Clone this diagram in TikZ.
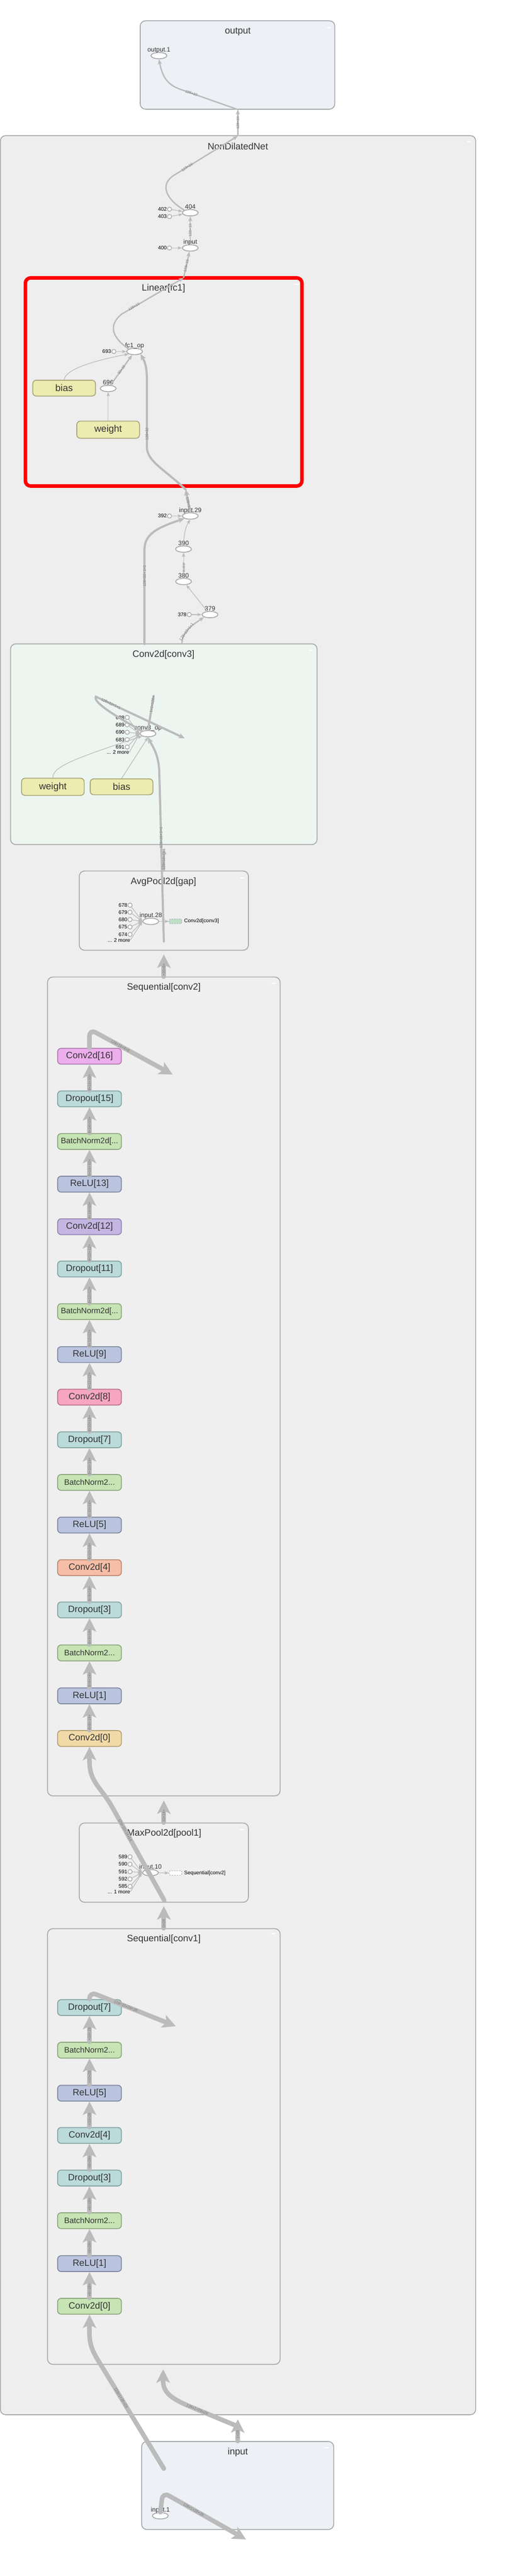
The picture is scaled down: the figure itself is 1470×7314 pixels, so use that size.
\documentclass[tikz,border=0pt]{standalone}
\usepackage{fontspec}
\setmainfont{Liberation Sans}
\usepackage{xcolor}
\usepackage{tikz}
\usetikzlibrary{arrows.meta,shapes.geometric}
\definecolor{edge}{HTML}{BBBBBB}
\definecolor{frame}{HTML}{A9A9A9}
\definecolor{ioframe}{HTML}{A6A8AC}
\definecolor{netbg}{HTML}{EEEEEE}
\definecolor{subbg}{HTML}{EFEFEF}
\definecolor{iobg}{HTML}{EDF0F5}
\definecolor{convbg}{HTML}{EDF5F0}
\definecolor{ink}{HTML}{333333}
\definecolor{elabc}{HTML}{7A7A7A}
\definecolor{opline}{HTML}{AAAAAA}
\definecolor{paramfill}{HTML}{ECEBB0}
\definecolor{paramline}{HTML}{A8A67A}
\definecolor{dropf}{HTML}{BBDADA}
\definecolor{dropl}{HTML}{84A3A3}
\definecolor{bnf}{HTML}{C6E4B4}
\definecolor{bnl}{HTML}{8DA67E}
\definecolor{reluf}{HTML}{BAC4DE}
\definecolor{relul}{HTML}{7F88A2}
\definecolor{cvaf}{HTML}{ECAEEC}
\definecolor{cval}{HTML}{B07CB0}
\definecolor{cvbf}{HTML}{C4B6E2}
\definecolor{cvbl}{HTML}{9285AE}
\definecolor{cvcf}{HTML}{F6A6C0}
\definecolor{cvcl}{HTML}{BC7189}
\definecolor{cvdf}{HTML}{F6BEA6}
\definecolor{cvdl}{HTML}{BC8670}
\definecolor{cvef}{HTML}{F2DAA8}
\definecolor{cvel}{HTML}{B59F73}
\definecolor{refgreen}{HTML}{BEE0C6}
\tikzset{
  cluster/.style={draw=frame, line width=0.25mm, rounded corners=1.5mm, inner sep=0pt},
  ttl/.style={text=ink, font=\fontsize{7.5}{9}\selectfont},
  opn/.style={ellipse, draw=opline, fill=white, line width=0.25mm, minimum width=4.5mm, minimum height=1.8mm, inner sep=0pt, label distance=0.6mm},
  cst/.style={circle, draw=opline, fill=white, line width=0.2mm, minimum size=1.2mm, inner sep=0pt, label distance=0.5mm},
  oplab/.style={text=ink, font=\fontsize{5.1}{6}\selectfont, inner sep=0pt, text depth=0pt},
  cstlab/.style={text=black, font=\fontsize{4.2}{5}\selectfont, inner sep=0pt},
  parambox/.style={draw=paramline, fill=paramfill, line width=0.25mm, rounded corners=1mm, minimum width=17.8mm, minimum height=4.5mm, text=ink, font=\fontsize{7.7}{9}\selectfont},
  modbox/.style={rounded corners=1mm, line width=0.25mm, minimum width=18.1mm, minimum height=4.5mm, inner sep=0pt, text=ink, font=\fontsize{7.4}{9}\selectfont},
  dropc/.style={modbox, fill=dropf, draw=dropl},
  bnc/.style={modbox, fill=bnf, draw=bnl, font=\fontsize{6.4}{8}\selectfont},
  reluc/.style={modbox, fill=reluf, draw=relul},
  cvac/.style={modbox, fill=cvaf, draw=cval},
  cvbc/.style={modbox, fill=cvbf, draw=cvbl},
  cvcc/.style={modbox, fill=cvcf, draw=cvcl},
  cvdc/.style={modbox, fill=cvdf, draw=cvdl},
  cvec/.style={modbox, fill=cvef, draw=cvel},
  linkbox/.style={draw=opline, dash pattern=on 0.4mm off 0.3mm, line width=0.15mm, rounded corners=0.4mm, minimum width=3.6mm, minimum height=1.3mm, inner sep=0pt},
  reflab/.style={text=black, font=\fontsize{4.2}{5}\selectfont, anchor=west, inner sep=0pt},
  edgethin/.style={draw=edge, line width=0.18mm, -{Stealth[length=1.2mm, width=0.9mm, inset=0.25mm]}},
  edgemid/.style={draw=edge, line width=0.38mm, -{Stealth[length=1.4mm, width=1.1mm, inset=0.3mm]}},
  edgethick/.style={draw=edge, line width=0.6mm, line cap=round, -{Stealth[length=1.7mm, width=1.5mm, inset=0.4mm]}},
  edgefat/.style={draw=edge, line width=1.3mm, line cap=round, -{Stealth[length=3.8mm, width=3.8mm, inset=0.9mm]}},
  elab/.style={text=elabc, font=\fontsize{3}{3.5}\selectfont, inner sep=0.2pt},
}

\begin{document}
\begin{tikzpicture}[x=0.1mm, y=-0.1mm]
  \useasboundingbox (0,0) rectangle (1470,7314);
  \fill[white] (0,0) rectangle (1470,7314);

  % groups
  \node[cluster, fill=iobg, draw=ioframe, minimum width=55.2mm, minimum height=25.1mm] (outbox) at (674,184.5) {};
  \node[cluster, fill=netbg, minimum width=134.9mm, minimum height=647.1mm] (net) at (675.5,3620.5) {};
  \node[cluster, fill=netbg, draw=red, line width=1mm, minimum width=78.5mm, minimum height=59.1mm] (fc) at (464.5,1084.5) {};
  \node[cluster, fill=convbg, minimum width=87mm, minimum height=57mm] (conv3) at (465,2113) {};
  \node[cluster, fill=subbg, minimum width=48mm, minimum height=22.5mm] (gap) at (465,2585.5) {};
  \node[cluster, fill=subbg, minimum width=66mm, minimum height=232.5mm] (conv2) at (465,3936.5) {};
  \node[cluster, fill=subbg, minimum width=48mm, minimum height=22.5mm] (pool) at (465,5288.5) {};
  \node[cluster, fill=subbg, minimum width=66mm, minimum height=123.7mm] (conv1) at (465,6094.5) {};
  \node[cluster, fill=iobg, draw=ioframe, minimum width=54.5mm, minimum height=25mm] (inbox) at (674.5,7057) {};
  \fill[white] (927,77) rectangle ++(12,3) (1325,401) rectangle ++(12,3) (836,806) rectangle ++(12,3)
    (876,1845) rectangle ++(12,3) (681,2491) rectangle ++(12,3) (770,2790) rectangle ++(12,3)
    (681,5193) rectangle ++(12,3) (770,5489) rectangle ++(12,3) (921,6948) rectangle ++(12,3);

  \node[ttl] (outtitle) at (675,90) {output};
  \node[ttl] (nettitle) at (675,416) {NonDilatedNet};
  \node[ttl] (fctitle) at (464,819) {Linear[fc1]};
  \node[ttl] (conv3title) at (464,1859) {Conv2d[conv3]};
  \node[ttl] (gaptitle) at (464,2504) {AvgPool2d[gap]};
  \node[ttl] (conv2title) at (465,2804) {Sequential[conv2]};
  \node[ttl] (pooltitle) at (466,5206) {MaxPool2d[pool1]};
  \node[ttl] (conv1title) at (465,5505) {Sequential[conv1]};
  \node[ttl] (intitle) at (675,6963) {input};

  % top ops
  \node[opn, label={[oplab]above:output.1}] (out1) at (451,158) {};
  \node[opn, label={[oplab]above:404}] (n404) at (540,604) {};
  \node[cst, label={[cstlab]left:402}] (c402) at (481,594) {};
  \node[cst, label={[cstlab]left:403}] (c403) at (481,615) {};
  \node[opn, label={[oplab]above:input}] (ninput) at (540,704) {};
  \node[cst, label={[cstlab]left:400}] (c400) at (481,704) {};
  \node[opn, label={[oplab]above:fc1\_op}] (fcop) at (382,998) {};
  \node[cst, label={[cstlab]left:693}] (c693) at (323,998) {};
  \node[opn, label={[oplab]above:696}] (n696) at (307,1103) {};
  \node[parambox] (bias1) at (182,1102) {bias};
  \node[parambox] (weight1) at (307,1220) {weight};
  \node[opn, label={[oplab]above:input.29}] (in29) at (540,1465) {};
  \node[cst, label={[cstlab]left:392}] (c392) at (481,1465) {};
  \node[opn, label={[oplab]above:390}] (n390) at (521,1559) {};
  \node[opn, label={[oplab]above:380}] (n380) at (521,1651) {};
  \node[opn, label={[oplab]above:379}] (n379) at (596,1745) {};
  \node[cst, label={[cstlab]left:378}] (c378) at (537,1745) {};

  % conv3
  \node[opn, label={[oplab]above:conv3\_op}] (c3op) at (420,2083) {};
  \node[cst, label={[cstlab]left:688}] (k688) at (361,2037) {};
  \node[cst, label={[cstlab]left:689}] (k689) at (361,2058) {};
  \node[cst, label={[cstlab]left:690}] (k690) at (361,2079) {};
  \node[cst, label={[cstlab]left:683}] (k683) at (361,2100) {};
  \node[cst, label={[cstlab]left:691}] (k691) at (361,2121) {};
  \node[cstlab, anchor=east] (more3) at (367,2136) {... 2 more};
  \node[parambox] (weight3) at (150,2234) {weight};
  \node[parambox] (bias3) at (345,2234) {bias};

  % gap
  \node[opn, label={[oplab]above:input.28}] (in28) at (428,2616) {};
  \node[cst, label={[cstlab]left:678}] (g678) at (369,2570) {};
  \node[cst, label={[cstlab]left:679}] (g679) at (369,2590) {};
  \node[cst, label={[cstlab]left:680}] (g680) at (369,2611) {};
  \node[cst, label={[cstlab]left:675}] (g675) at (369,2632) {};
  \node[cst, label={[cstlab]left:674}] (g674) at (369,2653) {};
  \node[cstlab, anchor=east] (more2) at (370,2669) {... 2 more};
  \node[linkbox, fill=refgreen] (gapref) at (498,2616) {};
  \node[reflab] (gapreflab) at (522,2616) {Conv2d[conv3]};

  % conv2
  \node[cvac] (b16) at (254,2999) {Conv2d[16]};
  \node[dropc] (b15) at (254,3120) {Dropout[15]};
  \node[bnc] (b14) at (254,3241) {BatchNorm2d[...};
  \node[reluc] (b13) at (254,3362) {ReLU[13]};
  \node[cvbc] (b12) at (254,3483) {Conv2d[12]};
  \node[dropc] (b11) at (254,3603) {Dropout[11]};
  \node[bnc] (b10) at (254,3724) {BatchNorm2d[...};
  \node[reluc] (b9) at (254,3846) {ReLU[9]};
  \node[cvcc] (b8) at (254,3967) {Conv2d[8]};
  \node[dropc] (b7) at (254,4088) {Dropout[7]};
  \node[bnc] (b6) at (254,4209) {BatchNorm2...};
  \node[reluc] (b5) at (254,4330) {ReLU[5]};
  \node[cvdc] (b4) at (254,4451) {Conv2d[4]};
  \node[dropc] (b3) at (254,4571) {Dropout[3]};
  \node[bnc] (b2) at (254,4693) {BatchNorm2...};
  \node[reluc] (b1) at (254,4815) {ReLU[1]};
  \node[cvec] (b0) at (254,4936) {Conv2d[0]};

  % pool
  \node[opn, label={[oplab]above:input.10}] (in10) at (427,5317) {};
  \node[cst, label={[cstlab]left:589}] (p589) at (369,5272) {};
  \node[cst, label={[cstlab]left:590}] (p590) at (369,5293) {};
  \node[cst, label={[cstlab]left:591}] (p591) at (369,5314) {};
  \node[cst, label={[cstlab]left:592}] (p592) at (369,5335) {};
  \node[cst, label={[cstlab]left:585}] (p585) at (369,5356) {};
  \node[cstlab, anchor=east] (more1) at (370,5371) {... 1 more};
  \node[linkbox, fill=white] (poolref) at (498,5318) {};
  \node[reflab] (poolreflab) at (522,5318) {Sequential[conv2]};

  % conv1
  \node[dropc] (a7) at (254,5700) {Dropout[7]};
  \node[bnc] (a6) at (254,5821) {BatchNorm2...};
  \node[reluc] (a5) at (254,5943) {ReLU[5]};
  \node[dropc] (a4) at (254,6063) {Conv2d[4]};
  \node[dropc] (a3) at (254,6184) {Dropout[3]};
  \node[bnc] (a2) at (254,6305) {BatchNorm2...};
  \node[reluc] (a1) at (254,6427) {ReLU[1]};
  \node[bnc, font=\fontsize{7.4}{9}\selectfont] (a0) at (254,6548) {Conv2d[0]};

  \node[opn, label={[oplab]above:input.1}] (in1) at (455,7143) {};

  % free ends on group borders
  \coordinate (outfoot) at (675,311);
  \coordinate (nettop) at (675,386);
  \coordinate (fctop) at (521,789);
  \coordinate (fcfoot) at (527,1390);
  \coordinate (c3topa) at (516,1829);
  \coordinate (c3topb) at (410,1829);
  \coordinate (c3up) at (436,1976);
  \coordinate (c3loop) at (524,2096);
  \coordinate (c3foot) at (465,2409);
  \coordinate (gapsrc) at (465,2673);
  \coordinate (gapfoot) at (465,2710);
  \coordinate (c2out) at (490,3051);
  \coordinate (c2foot) at (465,5112);
  \coordinate (poolsrc) at (466,5395);
  \coordinate (poolfoot) at (465,5412);
  \coordinate (c1out) at (499,5753);
  \coordinate (c1foot) at (463,6727);
  \coordinate (netfoot) at (675,6869);
  \coordinate (netin) at (672,6888);
  \coordinate (insrc) at (465,7009);
  \coordinate (inout) at (698,7210);

  % edges, top part
  \draw[edgemid] (outfoot) -- node[elab, sloped, pos=0.8] {128×10} (510,253) .. controls (470,238) and (460,212) .. (out1.south);
  \draw[edgemid] (nettop) -- node[elab, rotate=90] {128×10} (outfoot);
  \draw[edgemid] (n404.north west) .. controls (470,565) and (455,525) .. (490,500) -- node[elab, sloped, pos=0.22] {128×10} (nettop);
  \draw[edgethin] (c402) -- (n404);
  \draw[edgethin] (c403) -- (n404);
  \draw[edgemid] (ninput) -- node[elab, rotate=90] {128×10} (n404);
  \draw[edgethin] (c400) -- (ninput);
  \draw[edgemid] (fcop.north west) .. controls (320,960) and (305,925) .. (345,892) -- node[elab, sloped, pos=0.2] {128×10} (fctop);
  \draw[edgemid] (fctop) -- node[elab, sloped, pos=0.45] {128×10} (ninput);
  \draw[edgethin] (c693) -- (fcop);
  \draw[edgethin] (bias1.north) .. controls (185,1050) and (260,1025) .. (fcop.south west);
  \draw[edgemid] (n696) -- node[elab, sloped] {32×10} (fcop);
  \draw[edgethin] (weight1) -- (n696);
  \draw[edgethick] (in29.north) -- node[elab, sloped, pos=0.4] {128×32} (fcfoot);
  \draw[edgethick] (fcfoot) .. controls (470,1335) and (417,1310) .. (417,1270) -- node[elab, rotate=90, pos=0.2] {128×32} (417,1080) .. controls (417,1040) and (410,1025) .. (fcop.south east);
  \draw[edgethin] (c392) -- (in29);
  \draw[edgethin] (n390.north) .. controls (522,1525) and (524,1500) .. (in29.south);
  \draw[edgethin] (n380) -- node[elab, rotate=90, pos=0.4] {scalar} (n390);
  \draw[edgethin] (n379) -- (n380);
  \draw[edgethin] (c378) -- (n379);
  \draw[edgemid] (c3topa) .. controls (517,1795) and (545,1775) .. node[elab, sloped, pos=0.4] {128×32×1×1} (n379.south west);
  \draw[edgethick] (c3topb) -- node[elab, rotate=90, pos=0.72] {128×32×1×1} (410,1560) .. controls (410,1515) and (450,1497) .. (in29.south west);

  % conv3
  \draw[edgethick, -] (c3op.north) -- node[elab, sloped, pos=0.75] {1×1×128×} (c3up);
  \draw[edgethick] (c3op.north west) .. controls (340,2040) and (262,1995) .. (272,1978) -- node[elab, sloped, pos=0.17] {128×32×1×1} (c3loop);
  \draw[edgethin] (k688) -- (c3op.west);
  \draw[edgethin] (k689) -- (c3op.west);
  \draw[edgethin] (k690) -- (c3op.west);
  \draw[edgethin] (k683) -- (c3op.west);
  \draw[edgethin] (k691) -- (c3op.west);
  \draw[edgethin] (more3.east) -- (c3op.west);
  \draw[edgethin] (weight3.north) .. controls (150,2180) and (190,2160) .. (c3op.south west);
  \draw[edgethin] (bias3.north) -- (c3op.south);
  \draw[edgethick] (gapsrc) -- node[elab, rotate=90, pos=0.61] {128×16×1×1} (452,2190) .. controls (450,2140) and (432,2118) .. (c3op.south);
  \draw[edgethick] (gap.north) -- node[elab, rotate=90] {128×16×1×1} (c3foot);

  % gap
  \draw[edgethin] (g678) -- (in28.west);
  \draw[edgethin] (g679) -- (in28.west);
  \draw[edgethin] (g680) -- (in28.west);
  \draw[edgethin] (g675) -- (in28.west);
  \draw[edgethin] (g674) -- (in28.west);
  \draw[edgethin] (more2.east) -- (in28.west);
  \draw[edgethin] (in28) -- (gapref);
  \draw[edgefat] (conv2.north) -- node[elab, rotate=90, pos=0.3] {×16×8×} (gapfoot);

  % conv2
  \draw[edgefat, rounded corners=2mm] (b16.north) -- (254,2922) -- node[elab, sloped, pos=0.37] {128×16×8×8} (c2out);
  \draw[edgefat] (b15) -- node[elab, rotate=90, pos=0.3] {8×14×10×} (b16);
  \draw[edgefat] (b14) -- node[elab, rotate=90, pos=0.3] {8×14×10×} (b15);
  \draw[edgefat] (b13) -- node[elab, rotate=90, pos=0.3] {8×14×10×} (b14);
  \draw[edgefat] (b12) -- node[elab, rotate=90, pos=0.3] {8×14×10×} (b13);
  \draw[edgefat] (b11) -- node[elab, rotate=90, pos=0.3] {8×12×12×} (b12);
  \draw[edgefat] (b10) -- node[elab, rotate=90, pos=0.3] {8×12×12×} (b11);
  \draw[edgefat] (b9) -- node[elab, rotate=90, pos=0.3] {8×12×12×} (b10);
  \draw[edgefat] (b8) -- node[elab, rotate=90, pos=0.3] {8×12×12×} (b9);
  \draw[edgefat] (b7) -- node[elab, rotate=90, pos=0.3] {8×10×14×} (b8);
  \draw[edgefat] (b6) -- node[elab, rotate=90, pos=0.3] {8×10×14×} (b7);
  \draw[edgefat] (b5) -- node[elab, rotate=90, pos=0.3] {8×10×14×} (b6);
  \draw[edgefat] (b4) -- node[elab, rotate=90, pos=0.3] {8×10×14×} (b5);
  \draw[edgefat] (b3) -- node[elab, rotate=90, pos=0.3] {8×8×14×} (b4);
  \draw[edgefat] (b2) -- node[elab, rotate=90, pos=0.3] {8×8×14×} (b3);
  \draw[edgefat] (b1) -- node[elab, rotate=90, pos=0.3] {8×8×14×} (b2);
  \draw[edgefat] (b0) -- node[elab, rotate=90, pos=0.3] {8×8×14×} (b1);
  \draw[edgefat] (poolsrc) -- node[elab, sloped, pos=0.75] {128×10×14×14} (318,5130) .. controls (285,5072) and (254,5060) .. (254,5000) -- (b0.south);
  \draw[edgefat] (pool.north) -- node[elab, rotate=90, pos=0.3] {10×14×} (c2foot);

  % pool
  \draw[edgethin] (p589) -- (in10.west);
  \draw[edgethin] (p590) -- (in10.west);
  \draw[edgethin] (p591) -- (in10.west);
  \draw[edgethin] (p592) -- (in10.west);
  \draw[edgethin] (p585) -- (in10.west);
  \draw[edgethin] (more1.east) -- (in10.west);
  \draw[edgethin] (in10) -- (poolref);
  \draw[edgefat] (conv1.north) -- node[elab, rotate=90, pos=0.22] {0×28} (poolfoot);

  % conv1
  \draw[edgefat, rounded corners=2mm] (a7.north) -- (254,5655) -- node[elab, sloped, pos=0.42] {128×10×28×28} (c1out);
  \draw[edgefat] (a6) -- node[elab, rotate=90, pos=0.3] {×10×28} (a7);
  \draw[edgefat] (a5) -- node[elab, rotate=90, pos=0.3] {×10×28} (a6);
  \draw[edgefat] (a4) -- node[elab, rotate=90, pos=0.3] {×10×28} (a5);
  \draw[edgefat] (a3) -- node[elab, rotate=90, pos=0.3] {×8×28×} (a4);
  \draw[edgefat] (a2) -- node[elab, rotate=90, pos=0.3] {×8×28×} (a3);
  \draw[edgefat] (a1) -- node[elab, rotate=90, pos=0.3] {×8×28×} (a2);
  \draw[edgefat] (a0) -- node[elab, rotate=90, pos=0.3] {×8×28×} (a1);
  \draw[edgefat] (insrc) -- node[elab, sloped, pos=0.76] {128×1×28×28} (305,6745) .. controls (272,6690) and (254,6670) .. (254,6625) -- (a0.south);

  % input
  \draw[edgefat] (inbox.north) -- node[elab, rotate=90, pos=0.3] {1×28} (netfoot);
  \draw[edgefat] (netin) -- node[elab, sloped, pos=0.85] {128×1×28×28} (540,6833) .. controls (485,6810) and (463,6792) .. (463,6760) -- (c1foot);
  \draw[edgefat, rounded corners=2mm] (in1.north) -- (462,7076) -- node[elab, sloped, pos=0.37] {128×1×28×28} (inout);
\end{tikzpicture}
\end{document}
